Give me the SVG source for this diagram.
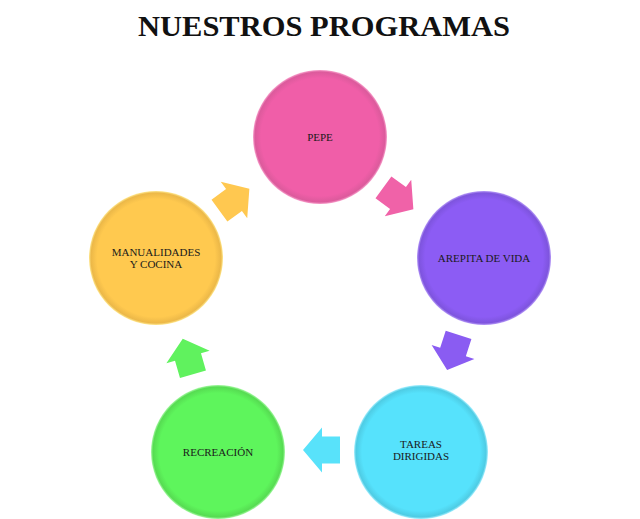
<svg xmlns="http://www.w3.org/2000/svg" width="640" height="519" viewBox="0 0 640 519">
<defs>
<style>
.t{font-family:"Liberation Serif","DejaVu Serif",serif;font-size:11px;fill:#1a1a1a;text-anchor:middle}
.title{font-family:"Liberation Serif","DejaVu Serif",serif;font-size:30px;font-weight:bold;fill:#111;text-anchor:middle}
</style>
<radialGradient id="gPink" cx="0.5" cy="0.5" r="0.5"><stop offset="0.88" stop-color="#F05EA8"/><stop offset="0.97" stop-color="#DC5A9C"/><stop offset="1" stop-color="#F8A0CC"/></radialGradient>
<radialGradient id="gPurple" cx="0.5" cy="0.5" r="0.5"><stop offset="0.88" stop-color="#8C5CF4"/><stop offset="0.97" stop-color="#7E54DE"/><stop offset="1" stop-color="#B89CF8"/></radialGradient>
<radialGradient id="gCyan" cx="0.5" cy="0.5" r="0.5"><stop offset="0.88" stop-color="#56E2FC"/><stop offset="0.97" stop-color="#4ECCE4"/><stop offset="1" stop-color="#A8F0FF"/></radialGradient>
<radialGradient id="gGreen" cx="0.5" cy="0.5" r="0.5"><stop offset="0.88" stop-color="#5EF55C"/><stop offset="0.97" stop-color="#56DC52"/><stop offset="1" stop-color="#A8FAA6"/></radialGradient>
<radialGradient id="gYellow" cx="0.5" cy="0.5" r="0.5"><stop offset="0.88" stop-color="#FFC94F"/><stop offset="0.97" stop-color="#ECB848"/><stop offset="1" stop-color="#FFE890"/></radialGradient>
<polygon id="arr" points="-18,-13.5 0,-13.5 0,-22.5 19,0 0,22.5 0,13.5 -18,13.5"/>
</defs>
<text class="title" x="324" y="36" textLength="372" lengthAdjust="spacingAndGlyphs">NUESTROS PROGRAMAS</text>
<g id="connectors">
<use href="#arr" fill="#FFC850" transform="translate(234,200) rotate(-36)"/>
<use href="#arr" fill="#F062A8" transform="translate(398,198) rotate(36)"/>
<use href="#arr" fill="#8A5CF2" transform="translate(453,352) rotate(108)"/>
<use href="#arr" fill="#58E2FA" transform="translate(322,450) rotate(180)"/>
<use href="#arr" fill="#60F25E" transform="translate(188,357) rotate(-106)"/>
</g>
<g id="pepe"><circle cx="320" cy="137" r="67" fill="url(#gPink)"/><text class="t" x="320" y="141">PEPE</text></g>
<g id="arepita"><circle cx="484" cy="258" r="67" fill="url(#gPurple)"/><text class="t" x="484" y="262">AREPITA DE VIDA</text></g>
<g id="tareas"><circle cx="421" cy="452" r="67" fill="url(#gCyan)"/><text class="t" x="421" y="448">TAREAS</text><text class="t" x="421" y="460">DIRIGIDAS</text></g>
<g id="recreacion"><circle cx="218" cy="452" r="67" fill="url(#gGreen)"/><text class="t" x="218" y="456">RECREACIÓN</text></g>
<g id="manualidades"><circle cx="156" cy="258" r="67" fill="url(#gYellow)"/><text class="t" x="156" y="256">MANUALIDADES</text><text class="t" x="156" y="268">Y COCINA</text></g>
</svg>
